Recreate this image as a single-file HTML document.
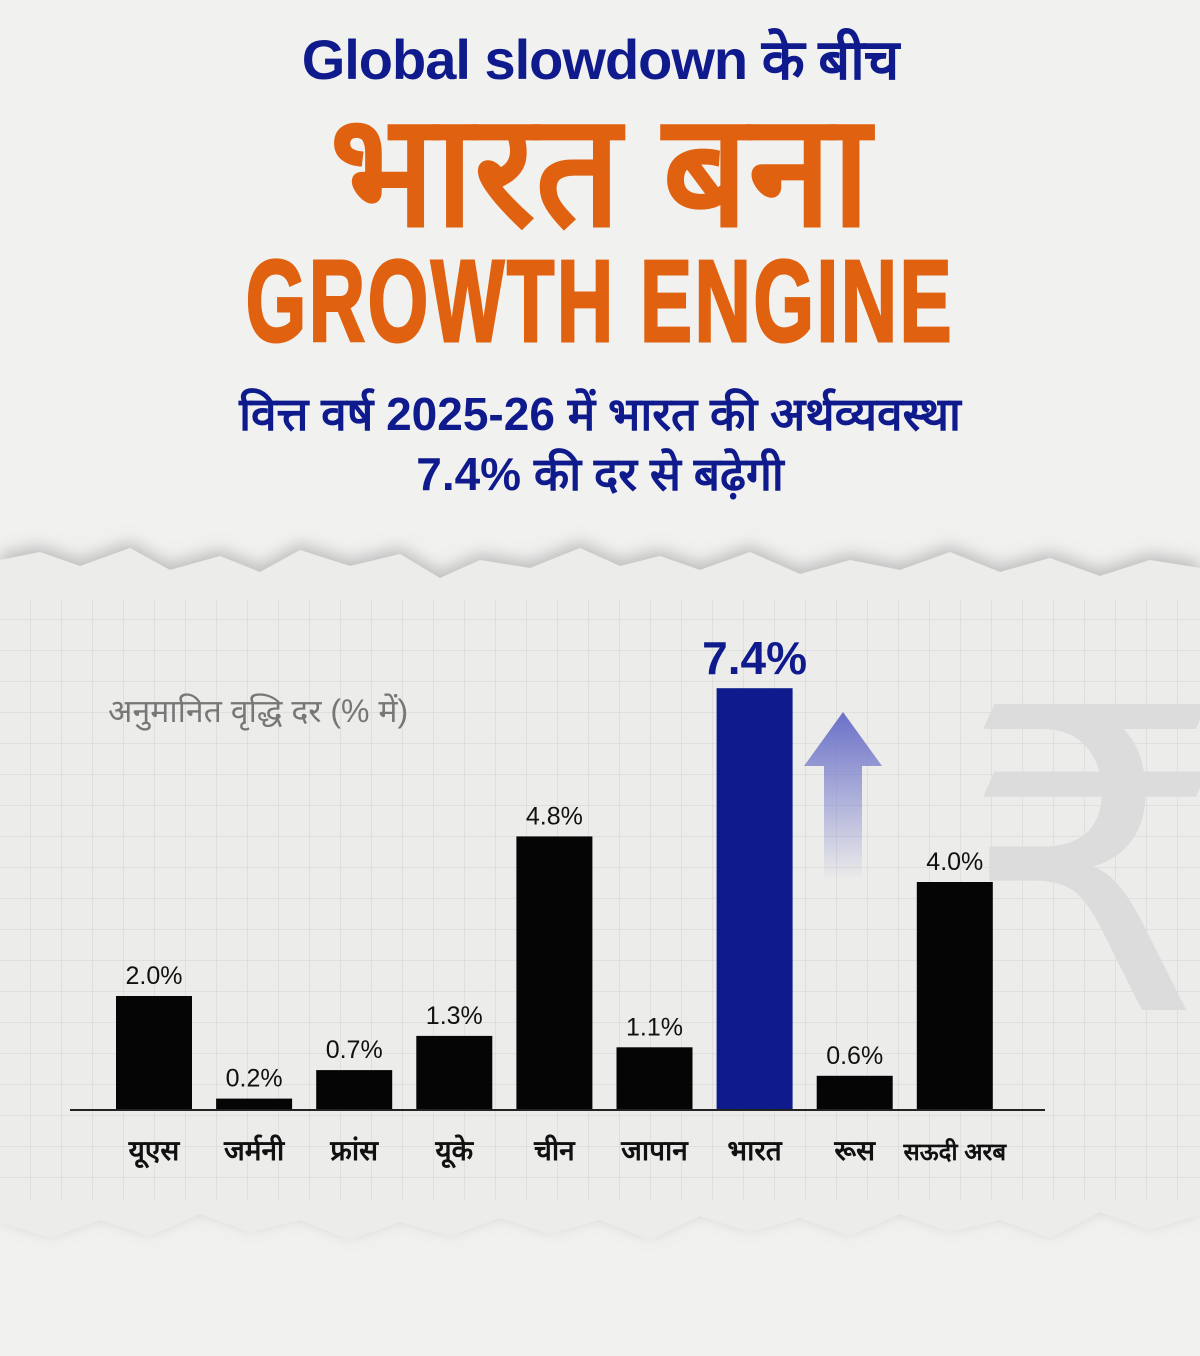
<!DOCTYPE html>
<html><head><meta charset="utf-8">
<style>
html,body{margin:0;padding:0}
body{width:1200px;height:1356px;position:relative;overflow:hidden;background:#f1f1f0;font-family:"Liberation Sans","Noto Sans CJK SC",sans-serif}
.t{position:absolute;left:0;width:1200px;text-align:center;white-space:nowrap}
</style></head><body>
<div class="t" style="top:20px;font-size:56px;font-weight:bold;color:#0f1a8c;letter-spacing:-1px">Global slowdown के बीच</div>
<div class="t" style="top:86px;font-size:158px;font-weight:bold;color:#e0610f;line-height:170px;transform:scaleX(0.95)">भारत बना</div>
<div class="t" style="top:246px;font-size:116px;font-weight:bold;color:#e0610f;transform:scaleX(0.67);letter-spacing:4px;line-height:110px;-webkit-text-stroke:3px #e0610f">GROWTH ENGINE</div>
<div class="t" style="top:382px;font-size:46px;font-weight:bold;color:#0f1a8c">वित्त वर्ष 2025-26 में भारत की अर्थव्यवस्था</div>
<div class="t" style="top:442px;font-size:46px;font-weight:bold;color:#0f1a8c">7.4% की दर से बढ़ेगी</div>

<svg id="chart" width="1200" height="1356" style="position:absolute;left:0;top:0">
<defs>
<pattern id="grid" width="31" height="31" patternUnits="userSpaceOnUse"><path d="M31 0V31H0" fill="none" stroke="#d2d2d2" stroke-width="1"/></pattern>
<linearGradient id="arr" x1="0" y1="0" x2="0" y2="1"><stop offset="0" stop-color="#6a70c8"/><stop offset="1" stop-color="#6a70c8" stop-opacity="0"/></linearGradient>
<filter id="sh"><feDropShadow dx="0" dy="-6" stdDeviation="8" flood-color="#888" flood-opacity="0.5"/></filter>
</defs>
<g>
<path filter="url(#sh)" d="M0 560 L40 552 L80 566 L130 548 L170 570 L220 556 L260 572 L300 550 L350 566 L400 554 L440 578 L480 560 L530 568 L580 548 L620 566 L660 556 L700 570 L750 552 L800 574 L850 560 L900 570 L950 552 L1000 572 L1050 558 L1100 576 L1150 560 L1200 568 L1200 1215 L1150 1230 L1100 1212 L1050 1238 L1000 1220 L950 1232 L900 1214 L850 1236 L800 1218 L750 1232 L700 1216 L650 1240 L600 1220 L550 1234 L500 1218 L450 1236 L400 1222 L350 1240 L300 1220 L250 1232 L200 1214 L150 1236 L100 1220 L50 1238 L0 1222 Z" fill="#ececea"/>
<rect x="0" y="600" width="1200" height="600" fill="url(#grid)"/>
</g>
<text x="1095" y="1010" font-size="420" fill="#dcdcdc" text-anchor="middle" font-family="DejaVu Sans">₹</text>
<text x="108" y="722" font-size="32" fill="#777">अनुमानित वृद्धि दर (% में)</text>
<path d="M843 712 L882 766 L862 766 L862 880 L824 880 L824 766 L804 766 Z" fill="url(#arr)"/>
<g id="bars"></g>
<line x1="70" x2="1045" y1="1110" y2="1110" stroke="#222" stroke-width="2"/>
</svg>
<script>
const categories=["यूएस","जर्मनी","फ्रांस","यूके","चीन","जापान","भारत","रूस","सऊदी अरब"];
const values=[2.0,0.2,0.7,1.3,4.8,1.1,7.4,0.6,4.0];
const labels=["2.0%","0.2%","0.7%","1.3%","4.8%","1.1%","7.4%","0.6%","4.0%"];
const highlight="भारत";
const ns="http://www.w3.org/2000/svg";
const base=1110,scale=57;
const xc=i=>154+i*100.1;
const yv=v=>base-v*scale;
const g=document.getElementById('bars');
categories.forEach((c,i)=>{
 const hl=c===highlight;
 const r=document.createElementNS(ns,'rect');
 r.setAttribute('x',xc(i)-38);r.setAttribute('width',76);
 r.setAttribute('y',yv(values[i]));r.setAttribute('height',base-yv(values[i]));
 r.setAttribute('fill',hl?'#0f1a8c':'#050505');
 
 
 g.appendChild(r);
 const t=document.createElementNS(ns,'text');
 t.setAttribute('x',xc(i));t.setAttribute('y',yv(values[i])-(hl?14:12));
 t.setAttribute('text-anchor','middle');
 t.setAttribute('font-size',hl?46:25);
 if(hl)t.setAttribute('font-weight','bold');
 t.setAttribute('fill',hl?'#0f1a8c':'#111');
 t.textContent=labels[i];
 
 
 g.appendChild(t);
 const l=document.createElementNS(ns,'text');
 l.setAttribute('x',xc(i));l.setAttribute('y',1160);
 l.setAttribute('text-anchor','middle');
 l.setAttribute('font-size',c.length>6?24:28);
 l.setAttribute('font-weight','bold');
 l.setAttribute('fill','#111');
 l.textContent=c;
 
 
 g.appendChild(l);
});
</script>
</body></html>
